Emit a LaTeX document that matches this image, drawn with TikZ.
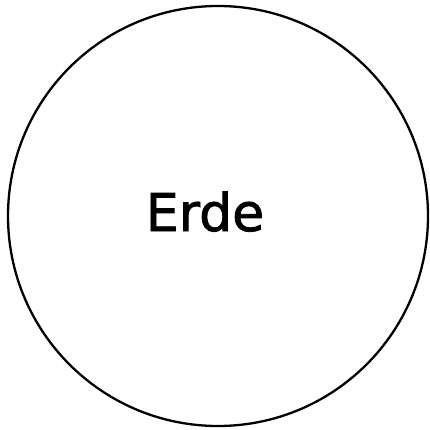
\documentclass[tikz,border=0pt]{standalone}
\usepackage{fontspec}
\setmainfont{DejaVu Sans}
\newfontfamily\erdefont[FakeBold=1.6]{DejaVu Sans}
\begin{document}
\begin{tikzpicture}[x=1pt,y=1pt,
  earth/.style={draw=black, line width=2.3pt},
  label/.style={font=\erdefont\fontsize{52}{56}\selectfont, inner sep=0pt, anchor=base}]
\useasboundingbox (0,0) rectangle (430,429);
\fill[white] (0,0) rectangle (430,429);
\draw[earth] (218,213) circle (210);
\node[label] (erde) at (205,198) {Erde};
\end{tikzpicture}
\end{document}
